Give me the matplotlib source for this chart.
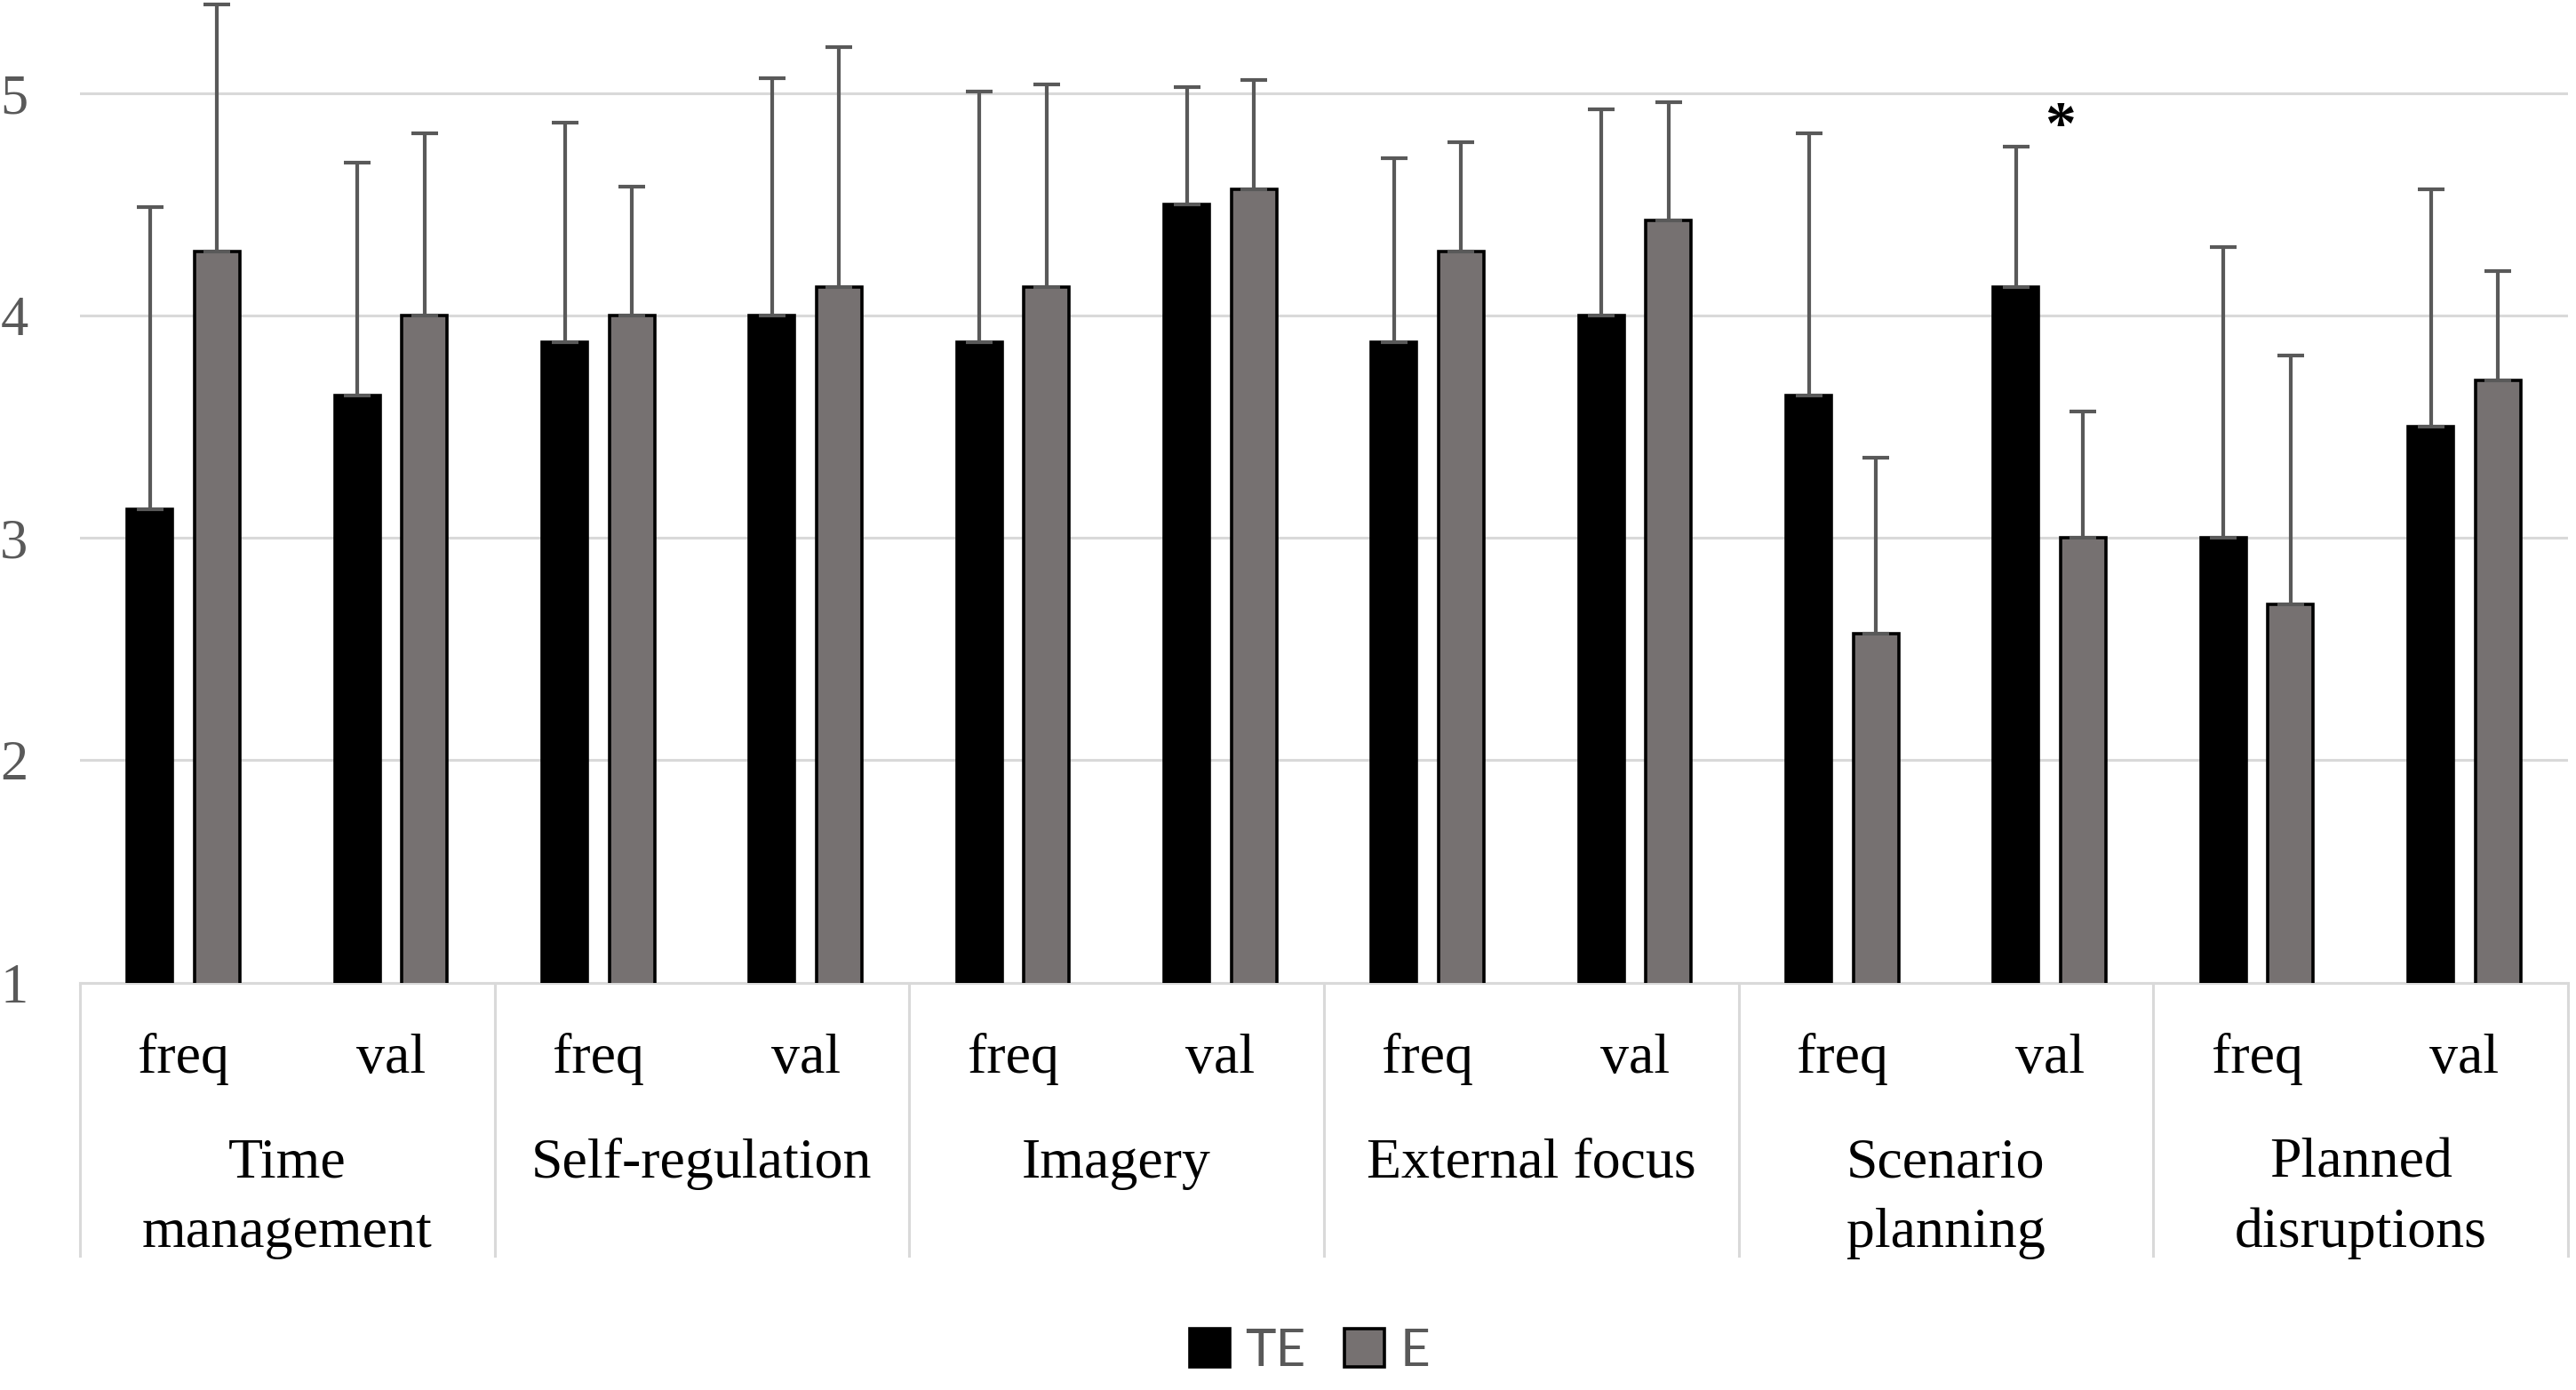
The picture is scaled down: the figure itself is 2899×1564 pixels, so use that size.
import matplotlib.pyplot as plt
import numpy as np

groups = ["Time\nmanagement", "Self-regulation", "Imagery", "External focus",
          "Scenario\nplanning", "Planned\ndisruptions"]
subs = ["freq", "val"]

te_mean = [3.13, 3.64, 3.88, 4.00, 3.88, 4.50, 3.88, 4.00, 3.64, 4.13, 3.00, 3.50]
te_sd = [1.36, 1.05, 0.99, 1.07, 1.13, 0.53, 0.83, 0.93, 1.18, 0.63, 1.31, 1.07]
e_mean = [4.29, 4.00, 4.00, 4.13, 4.13, 4.57, 4.29, 4.43, 2.57, 3.00, 2.70, 3.71]
e_sd = [1.11, 0.82, 0.58, 1.08, 0.91, 0.49, 0.49, 0.53, 0.79, 0.57, 1.12, 0.49]

star_idx = 9
star_y = 4.84

serif = "Liberation Serif"

fig = plt.figure(figsize=(28.99, 15.64), dpi=100)
ax = fig.add_axes([90 / 2899, 1 - 1105.5 / 1564, 2800 / 2899, 1105.5 / 1564])

x = np.arange(len(te_mean))
w = 0.219
off = 0.162
ekw = dict(ecolor="#595959", elinewidth=3.0, capsize=10.5, capthick=3.0, clip_on=False)

ax.bar(x - off, te_mean, w, color="black", edgecolor="black",
       linewidth=2.6, label="TE", zorder=3,
       yerr=[np.zeros(len(te_sd)), te_sd], error_kw=ekw)
ax.bar(x + off, e_mean, w, color="#767171", edgecolor="black",
       linewidth=2.6, label="E", zorder=3,
       yerr=[np.zeros(len(e_sd)), e_sd], error_kw=ekw)

ax.set_xlim(-0.5, len(x) - 0.5)
ax.set_ylim(1, 5.42)
ax.set_yticks([1, 2, 3, 4, 5])
ax.yaxis.grid(True, color="#d9d9d9", linewidth=2.2, zorder=0)
ax.set_axisbelow(True)
for s in ["top", "right", "left"]:
    ax.spines[s].set_visible(False)
ax.spines["bottom"].set_color("#d9d9d9")
ax.spines["bottom"].set_linewidth(2.2)
ax.tick_params(axis="y", length=0, pad=42, labelsize=45, labelcolor="#595959")
for lab in ax.get_yticklabels():
    lab.set_fontfamily(serif)
ax.set_xticks([])

tr = ax.get_xaxis_transform()

# separators below axis
for b in np.arange(-0.5, len(x), 2):
    ax.plot([b, b], [0, -0.278], transform=tr, color="#d9d9d9",
            linewidth=2.2, clip_on=False)

# freq / val
for i in x:
    ax.annotate(subs[i % 2], xy=(i, 0), xycoords=tr, xytext=(0, -62),
                textcoords="offset points", ha="center", va="center",
                fontsize=46, family=serif)

# group names
for g, name in enumerate(groups):
    for k, line in enumerate(name.split("\n")):
        ax.annotate(line, xy=(2 * g + 0.5, 0), xycoords=tr,
                    xytext=(0, -147 - 56.5 * k), textcoords="offset points",
                    ha="center", va="center", fontsize=46, family=serif)

ax.text(star_idx + 0.05, star_y, "*", ha="center", va="center",
        fontsize=50, family=serif, fontweight="bold")

fig.legend(loc="center", bbox_to_anchor=(1474 / 2899, 0.028), ncol=2,
           frameon=False, prop={"family": "Lato", "size": 42},
           labelcolor="#595959", handlelength=0.77, handleheight=0.77,
           handletextpad=0.3, columnspacing=0.75)

fig.savefig("out.png", dpi=100)
